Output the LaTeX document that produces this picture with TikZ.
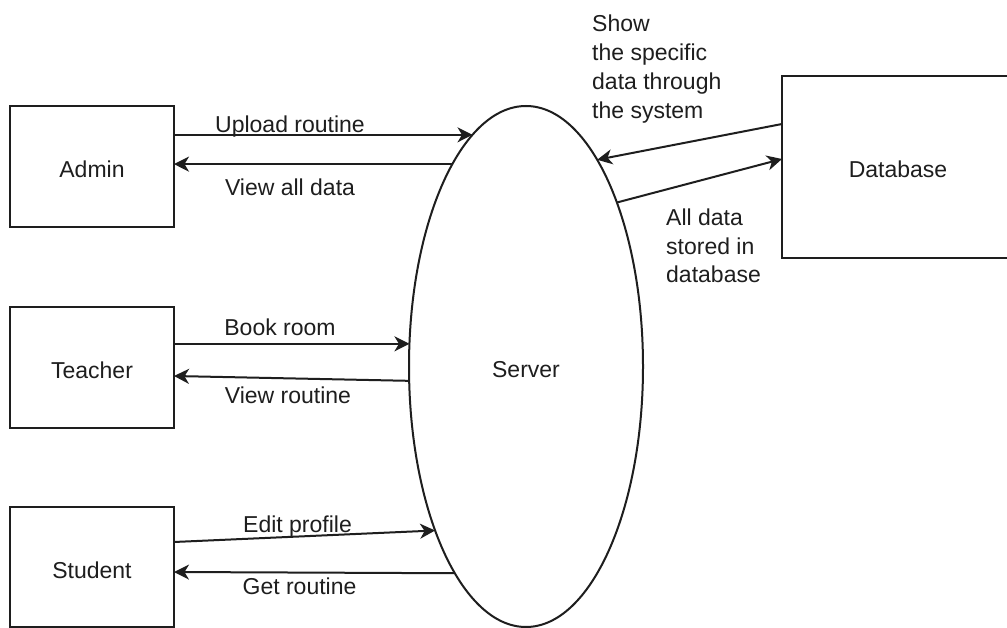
\documentclass[tikz,border=0pt]{standalone}
\usepackage{fontspec}
\setmainfont{Liberation Sans}
\usetikzlibrary{arrows.meta,shapes.geometric,calc}
\definecolor{ink}{HTML}{1E1E1E}
\begin{document}
\begin{tikzpicture}[x=1pt,y=-1pt,
  every node/.style={font=\fontsize{23}{29}\selectfont, text=ink},
  entity/.style={draw=ink, line width=2pt, rectangle, minimum width=164pt,
    minimum height=121pt, inner sep=0pt, outer sep=0pt,
    text height=22pt, text depth=0pt},
  process/.style={draw=ink, line width=2pt, ellipse, minimum width=234pt,
    minimum height=521pt, inner sep=0pt, outer sep=0pt,
    text height=22pt, text depth=0pt},
  flow/.style={draw=ink, line width=2pt,
    -{Stealth[length=15pt,width=15pt,inset=4.5pt]}},
  lbl/.style={inner sep=0pt, anchor=base},
  note/.style={inner sep=0pt, anchor=base west, align=left},
]
% canvas
\clip (0,0) rectangle (1007,628);
\fill[white] (0,0) rectangle (1007,628);

% external entities and the central process
\node[entity] (admin) at (92,166.5) {Admin};
\node[entity] (teacher) at (92,367.5) {Teacher};
\node[entity, minimum height=120pt] (student) at (92,567) {Student};
\node[entity, minimum width=232pt, minimum height=182pt] (db) at (898,167) {Database};
\node[process] (srv) at (526,366.5) {Server};

% data flows
\draw[flow] (admin.east |- srv.103.6) -- (srv.103.6);
\draw[flow] (srv.110.9) -- (admin.east |- srv.110.9);
\draw[flow] (teacher.east |- srv.169.6) -- (srv.169.6);
\draw[flow] (srv.187.1) -- ([yshift=-8.5pt]teacher.east);
\draw[flow] ([yshift=25pt]student.east) -- (srv.241.6);
\draw[flow] (srv.251.2) -- ([yshift=-5pt]student.east);
\draw[flow] ([yshift=43pt]db.west) -- (srv.71.2);
\draw[flow] (srv.61.1) -- ([yshift=8pt]db.west);

% flow labels (multi-line notes are placed by their last baseline)
\node[lbl] (upload) at (290,133) {Upload routine};
\node[lbl] (viewall) at (290,196) {View all data};
\node[lbl] (book) at (280,336) {Book room};
\node[lbl] (viewroutine) at (288,403) {View routine};
\node[lbl] (edit) at (297.5,532) {Edit profile};
\node[lbl] (getroutine) at (299.5,594) {Get routine};
\node[note] (show) at (592,118.3) {Show\\the specific\\data through\\the system};
\node[note, font=\fontsize{23}{28.5}\selectfont] (stored) at (666,283) {All data\\stored in\\database};
\end{tikzpicture}
\end{document}
